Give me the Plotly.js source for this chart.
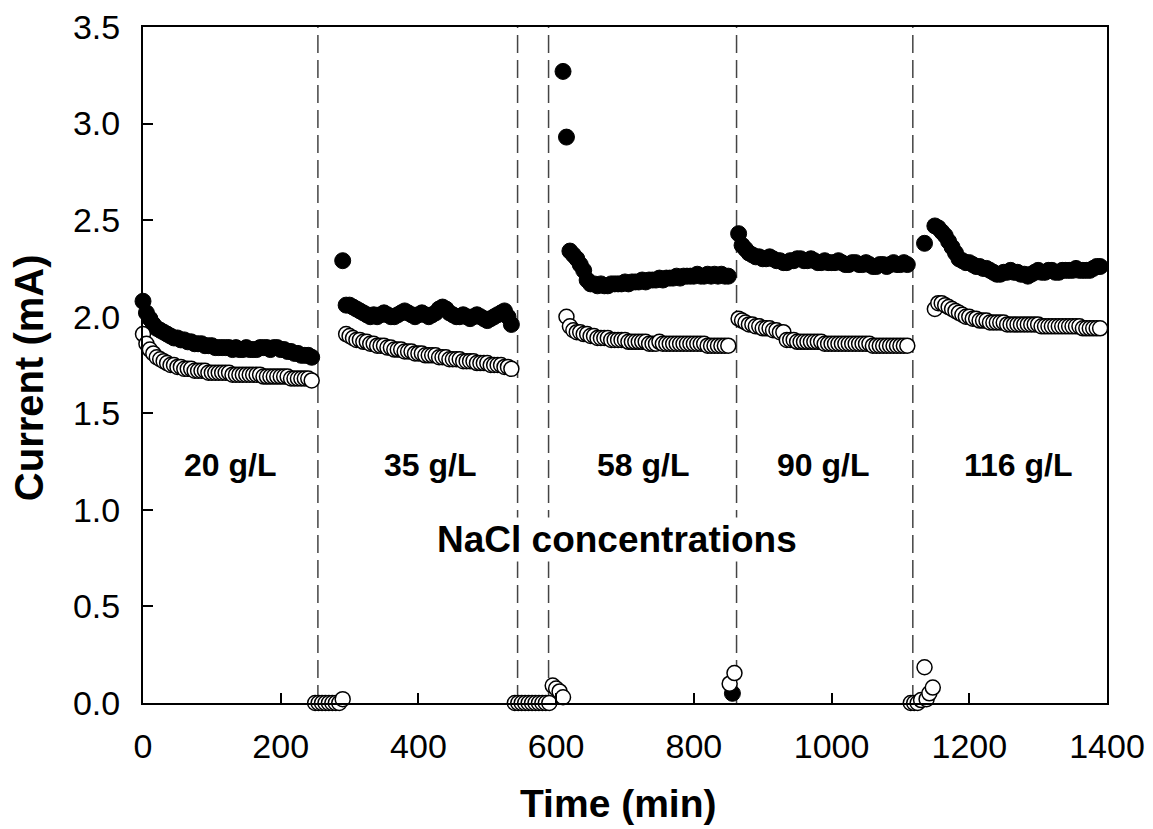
<!DOCTYPE html>
<html>
<head>
<meta charset="utf-8">
<script src="https://cdn.plot.ly/plotly-3.0.1.min.js"></script>
<style>html,body{margin:0;padding:0;background:#fff;}#chart{width:1153px;height:829px;}</style>
</head>
<body>
<div id="chart"></div>
<script>
// ---- 20 g/L ----
const t20 = [0,5,10,15,20,25,30,35,40,45,50,55,60,65,70,75,80,85,90,95,100,105,110,115,120,125,130,135,140,145,150,155,160,165,170,175,180,185,190,195,200,205,210,215,220,225,230,235,240,245];
const black20 = [2.08,2.02,1.99,1.96,1.94,1.93,1.92,1.91,1.90,1.89,1.89,1.88,1.88,1.87,1.87,1.86,1.86,1.86,1.85,1.85,1.85,1.84,1.84,1.84,1.84,1.84,1.83,1.84,1.83,1.83,1.84,1.83,1.83,1.83,1.84,1.84,1.84,1.83,1.84,1.84,1.83,1.83,1.82,1.82,1.81,1.81,1.80,1.80,1.80,1.79];
const open20 = [1.91,1.86,1.83,1.81,1.79,1.78,1.77,1.76,1.75,1.75,1.74,1.74,1.73,1.73,1.73,1.72,1.72,1.72,1.72,1.71,1.71,1.71,1.71,1.71,1.71,1.71,1.70,1.70,1.70,1.70,1.70,1.70,1.70,1.70,1.70,1.69,1.69,1.69,1.69,1.69,1.69,1.69,1.69,1.68,1.68,1.68,1.68,1.68,1.68,1.67];
// ---- off period 1 ----
const tOff1 = [250,255,260,265,270,275,280,285,290];
const openOff1 = [0,0,0,0,0,0,0,0,0.02];
// ---- 35 g/L ----
const t35b = [290,295,300,305,310,315,320,325,330,335,340,345,350,355,360,365,370,375,380,385,390,395,400,405,410,415,420,425,430,435,440,445,450,455,460,465,470,475,480,485,490,495,500,505,510,515,520,525,530,535];
const black35 = [2.29,2.06,2.06,2.05,2.04,2.03,2.02,2.01,2.00,2.01,2.00,2.01,2.02,2.01,2.00,2.00,2.01,2.02,2.03,2.02,2.01,2.00,2.01,2.02,2.01,2.00,2.01,2.02,2.04,2.05,2.04,2.02,2.01,2.00,2.00,2.01,2.00,1.99,2.00,2.01,2.00,1.99,1.98,1.99,2.00,2.01,2.02,2.03,2.00,1.96];
const t35o = [295,300,305,310,315,320,325,330,335,340,345,350,355,360,365,370,375,380,385,390,395,400,405,410,415,420,425,430,435,440,445,450,455,460,465,470,475,480,485,490,495,500,505,510,515,520,525,530,535];
const open35 = [1.91,1.90,1.89,1.88,1.88,1.87,1.87,1.86,1.86,1.85,1.85,1.85,1.84,1.84,1.83,1.83,1.83,1.82,1.82,1.82,1.81,1.81,1.81,1.80,1.80,1.80,1.80,1.79,1.79,1.79,1.78,1.78,1.78,1.78,1.77,1.77,1.77,1.77,1.76,1.76,1.76,1.76,1.75,1.75,1.75,1.75,1.74,1.74,1.73];
// ---- off period 2 ----
const tOff2 = [540,545,550,555,560,565,570,575,580,585,590,595,600,605,610];
const openOff2 = [0,0,0,0,0,0,0,0,0,0,0,0.09,0.075,0.06,0.03];
// ---- 58 g/L ----
const t58b = [610,615,620,625,630,635,640,645,650,655,660,665,670,675,680,685,690,695,700,705,710,715,720,725,730,735,740,745,750,755,760,765,770,775,780,785,790,795,800,805,810,815,820,825,830,835,840,845,850,856];
const black58 = [3.27,2.93,2.34,2.32,2.30,2.27,2.24,2.19,2.17,2.17,2.16,2.17,2.16,2.16,2.17,2.17,2.17,2.17,2.18,2.17,2.18,2.18,2.18,2.19,2.18,2.19,2.19,2.19,2.20,2.19,2.20,2.20,2.20,2.21,2.20,2.21,2.21,2.21,2.21,2.22,2.21,2.21,2.22,2.21,2.22,2.21,2.22,2.21,2.21,0.05];
const t58o = [615,620,625,630,635,640,645,650,655,660,665,670,675,680,685,690,695,700,705,710,715,720,725,730,735,740,745,750,755,760,765,770,775,780,785,790,795,800,805,810,815,820,825,830,835,840,845,850,852,859];
const open58 = [2.00,1.95,1.93,1.92,1.92,1.91,1.91,1.90,1.90,1.89,1.89,1.89,1.89,1.88,1.88,1.88,1.88,1.88,1.87,1.87,1.87,1.87,1.87,1.87,1.86,1.86,1.86,1.87,1.86,1.86,1.86,1.86,1.86,1.86,1.86,1.86,1.86,1.86,1.86,1.86,1.86,1.85,1.85,1.85,1.85,1.85,1.85,1.85,0.10,0.155];
// ---- 90 g/L ----
const t90 = [865,870,875,880,885,890,895,900,905,910,915,920,925,930,935,940,945,950,955,960,965,970,975,980,985,990,995,1000,1005,1010,1015,1020,1025,1030,1035,1040,1045,1050,1055,1060,1065,1070,1075,1080,1085,1090,1095,1100,1105,1110];
const black90 = [2.43,2.37,2.35,2.33,2.32,2.31,2.31,2.30,2.30,2.31,2.30,2.29,2.29,2.28,2.28,2.29,2.29,2.30,2.30,2.29,2.29,2.30,2.29,2.28,2.28,2.29,2.28,2.28,2.28,2.29,2.28,2.27,2.27,2.28,2.28,2.27,2.27,2.28,2.27,2.26,2.26,2.27,2.27,2.26,2.27,2.28,2.27,2.27,2.28,2.27];
const open90 = [1.99,1.98,1.97,1.96,1.96,1.95,1.95,1.94,1.94,1.94,1.93,1.93,1.92,1.92,1.88,1.88,1.88,1.87,1.87,1.87,1.87,1.87,1.87,1.87,1.87,1.86,1.86,1.86,1.86,1.86,1.86,1.86,1.86,1.86,1.86,1.86,1.86,1.86,1.86,1.85,1.85,1.85,1.85,1.85,1.85,1.85,1.85,1.85,1.85,1.85];
// ---- off period 3 ----
const tOff3 = [1115,1120,1125,1130,1135,1138,1142,1147];
const openOff3 = [0,0,0,0.015,0.185,0.02,0.05,0.08];
// ---- 116 g/L ----
const t116b = [1135,1150,1155,1160,1165,1170,1175,1180,1185,1190,1195,1200,1205,1210,1215,1220,1225,1230,1235,1240,1245,1250,1255,1260,1265,1270,1275,1280,1285,1290,1295,1300,1305,1310,1315,1320,1325,1330,1335,1340,1345,1350,1355,1360,1365,1370,1375,1380,1385,1390];
const black116 = [2.38,2.47,2.46,2.44,2.42,2.39,2.36,2.33,2.30,2.29,2.28,2.28,2.27,2.26,2.26,2.25,2.25,2.24,2.23,2.22,2.22,2.23,2.23,2.24,2.23,2.23,2.22,2.22,2.21,2.22,2.23,2.24,2.23,2.23,2.24,2.24,2.23,2.23,2.24,2.24,2.24,2.24,2.25,2.24,2.24,2.24,2.24,2.25,2.26,2.26];
const t116o = [1150,1155,1160,1165,1170,1175,1180,1185,1190,1195,1200,1205,1210,1215,1220,1225,1230,1235,1240,1245,1250,1255,1260,1265,1270,1275,1280,1285,1290,1295,1300,1305,1310,1315,1320,1325,1330,1335,1340,1345,1350,1355,1360,1365,1370,1375,1380,1385,1390];
const open116 = [2.04,2.07,2.07,2.06,2.05,2.04,2.03,2.02,2.01,2.00,2.00,1.99,1.99,1.98,1.98,1.98,1.97,1.97,1.97,1.97,1.97,1.96,1.96,1.96,1.96,1.96,1.96,1.96,1.96,1.96,1.96,1.95,1.95,1.95,1.95,1.95,1.95,1.95,1.95,1.95,1.95,1.95,1.95,1.94,1.94,1.94,1.94,1.94,1.94];

// ---- change of solution (dashed lines) and labels ----
const changeTimes = [254, 544, 589, 862, 1118];
const concLabels = ["20 g/L", "35 g/L", "58 g/L", "90 g/L", "116 g/L"];
const concLabelX = [126, 417, 726, 987, 1272];
const concLabelY = 1.23;
const xTicks = [0, 200, 400, 600, 800, 1000, 1200, 1400];
const yTicks = [0, 0.5, 1.0, 1.5, 2.0, 2.5, 3.0, 3.5];
const xTitle = "Time (min)";
const yTitle = "Current (mA)";
const noteText = "NaCl concentrations";

const FONT = "Liberation Sans, Arial, Helvetica, sans-serif";
const blackMarker = {symbol: "circle", size: 16, color: "#000", line: {color: "#000", width: 1}};
const openMarker = {symbol: "circle", size: 15, color: "#fff", line: {color: "#000", width: 1.5}};

const blackSets = [[t20, black20], [t35b, black35], [t58b, black58], [t90, black90], [t116b, black116]];
const openSets = [[t20, open20], [tOff1, openOff1], [t35o, open35], [tOff2, openOff2], [t58o, open58], [t90, open90], [tOff3, openOff3], [t116o, open116]];

const traces = [];
blackSets.forEach(([x, y]) => traces.push({x, y, type: "scatter", mode: "markers", marker: blackMarker, cliponaxis: false, showlegend: false, hoverinfo: "x+y"}));
openSets.forEach(([x, y]) => traces.push({x, y, type: "scatter", mode: "markers", marker: openMarker, cliponaxis: false, showlegend: false, hoverinfo: "x+y"}));

const shapes = changeTimes.map(t => ({
  type: "line", xref: "x", yref: "paper", x0: t, x1: t, y0: 0, y1: 1,
  line: {color: "#444", width: 1.5, dash: "18px,7px"}, layer: "below"
}));

const annotations = concLabels.map((s, i) => ({
  x: concLabelX[i], y: concLabelY, xref: "x", yref: "y", text: "<b>" + s + "</b>",
  showarrow: false, font: {family: FONT, size: 32, color: "#000"}
}));
annotations.push({
  x: 689, y: 0.845, xref: "x", yref: "y", text: "<b>" + noteText + "</b>",
  showarrow: false, bgcolor: "#fff", font: {family: FONT, size: 37, color: "#000"}
});
// axis titles placed as annotations to match the reference positions
annotations.push({
  x: -0.1183, y: 0.482, xref: "paper", yref: "paper", xanchor: "center", yanchor: "middle",
  text: "<b>" + yTitle + "</b>", textangle: -90, showarrow: false,
  font: {family: FONT, size: 40, color: "#000"}
});
annotations.push({
  x: 0.493, y: -0.148, xref: "paper", yref: "paper", xanchor: "center", yanchor: "middle",
  text: "<b>" + xTitle + "</b>", showarrow: false,
  font: {family: FONT, size: 39, color: "#000"}
});

const layout = {
  width: 1153, height: 829,
  margin: {l: 143, r: 46, t: 27, b: 126},
  paper_bgcolor: "#fff", plot_bgcolor: "#fff",
  font: {family: FONT, color: "#000"},
  showlegend: false,
  xaxis: {
    range: [0, 1400], tickvals: xTicks, ticktext: xTicks.map(String),
    ticks: "inside", ticklen: 10, tickwidth: 2, tickcolor: "#000",
    showline: true, linecolor: "#000", linewidth: 2, mirror: true,
    showgrid: false, zeroline: false,
    tickfont: {family: FONT, size: 34, color: "#000"}, ticklabelstandoff: 12
  },
  yaxis: {
    range: [0, 3.5], tickvals: yTicks, ticktext: yTicks.map(v => v.toFixed(1)),
    ticks: "inside", ticklen: 10, tickwidth: 2, tickcolor: "#000",
    showline: true, linecolor: "#000", linewidth: 2, mirror: true,
    showgrid: false, zeroline: false,
    tickfont: {family: FONT, size: 34, color: "#000"}, ticklabelstandoff: 14
  },
  shapes, annotations
};

Plotly.newPlot("chart", traces, layout, {staticPlot: true, displayModeBar: false});
</script>
</body>
</html>
